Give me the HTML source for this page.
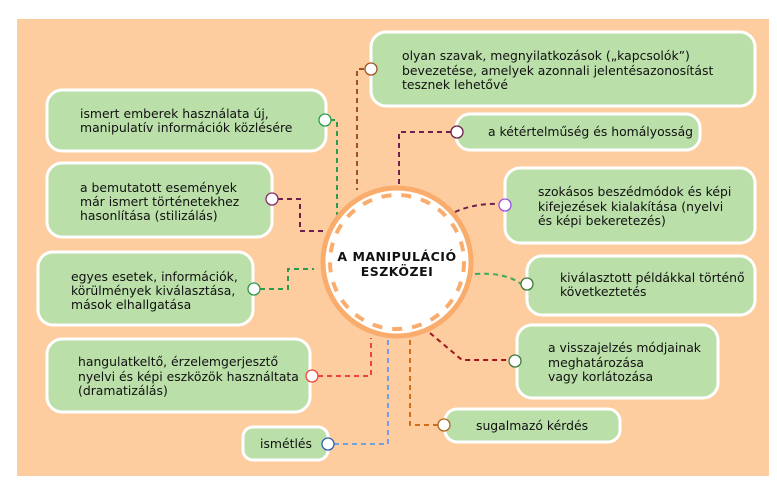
<!DOCTYPE html>
<html><head><meta charset="utf-8"><style>
body{margin:0;background:#fff;width:777px;height:492px;overflow:hidden}
svg text{font-family:"DejaVu Sans","Liberation Sans",sans-serif;font-size:12.4px;fill:#111}
</style></head><body>
<svg width="777" height="492" xmlns="http://www.w3.org/2000/svg">
<rect x="17" y="19" width="752" height="457" fill="#FDCC9F"/>
<g fill="#BADFA9" stroke="#fff" stroke-width="3">
<rect x="371" y="32" width="384" height="74" rx="15"/>
<rect x="47" y="90" width="279" height="61" rx="15"/>
<rect x="456" y="114" width="244" height="36" rx="14"/>
<rect x="47" y="163" width="225" height="74" rx="15"/>
<rect x="505" y="168" width="250" height="75" rx="15"/>
<rect x="38" y="252" width="215" height="73" rx="15"/>
<rect x="527" y="256" width="228" height="59" rx="15"/>
<rect x="47" y="339" width="263" height="73" rx="15"/>
<rect x="517" y="325" width="201" height="73" rx="15"/>
<rect x="445" y="409" width="175" height="33" rx="12"/>
<rect x="243" y="427" width="85" height="33" rx="10"/>
</g>
<g fill="none" stroke-width="2" stroke-dasharray="5,4">
<path d="M364 69 H357 V190" stroke="#A0521F"/>
<path d="M330 120 H337 V215" stroke="#2E9A4E"/>
<path d="M451 132 H399 V186" stroke="#6E1F4E"/>
<path d="M278 199 H300 V231 H325" stroke="#6E1F4E"/>
<path d="M455 212 Q475 203 499 204" stroke="#6E1F4E"/>
<path d="M260 289 H288 V269 H314" stroke="#2E9A4E"/>
<path d="M475 274 Q505 272 521 284" stroke="#3BAA5A"/>
<path d="M318 376 H371 V338" stroke="#F0433A"/>
<path d="M430 333 L462 360 H509" stroke="#A0161A"/>
<path d="M410 340 V425 H438" stroke="#D0701A"/>
<path d="M388 340 V444 H334" stroke="#6FA0E0"/>
</g>
<circle cx="397" cy="262" r="74" fill="#fff" stroke="#F9AC6C" stroke-width="5"/>
<circle cx="397" cy="262" r="67" fill="none" stroke="#F9AC6C" stroke-width="4" stroke-dasharray="10,10"/>
<g fill="#fff" stroke-width="1.3">
<circle cx="371" cy="69" r="6" stroke="#A0521F"/>
<circle cx="325" cy="120" r="6" stroke="#2E9A4E"/>
<circle cx="457" cy="132" r="6" stroke="#6E1F4E"/>
<circle cx="272" cy="199" r="6" stroke="#8B2B6A"/>
<circle cx="505" cy="205" r="6" stroke="#9B4FE0"/>
<circle cx="254" cy="289" r="6" stroke="#2E9A4E"/>
<circle cx="527" cy="284" r="6" stroke="#3B7A3A"/>
<circle cx="312" cy="376" r="6" stroke="#F0433A"/>
<circle cx="515" cy="361" r="6" stroke="#3B7A3A"/>
<circle cx="444" cy="425" r="6" stroke="#B0651A"/>
<circle cx="328" cy="444" r="6" stroke="#3060B0"/>
</g>
<text x="397" y="261" text-anchor="middle" style="font-weight:bold;font-size:12.5px;letter-spacing:0.5px">A MANIPULÁCIÓ</text>
<text x="397" y="276" text-anchor="middle" style="font-weight:bold;font-size:12.5px;letter-spacing:0.5px">ESZKÖZEI</text>
<text x="402" y="60">olyan szavak, megnyilatkozások („kapcsolók”)</text>
<text x="402" y="75">bevezetése, amelyek azonnali jelentésazonosítást</text>
<text x="402" y="89">tesznek lehetővé</text>
<text x="80" y="118">ismert emberek használata új,</text>
<text x="80" y="132">manipulatív információk közlésére</text>
<text x="488" y="136">a kétértelműség és homályosság</text>
<text x="80" y="192">a bemutatott események</text>
<text x="80" y="206">már ismert történetekhez</text>
<text x="80" y="220">hasonlítása (stilizálás)</text>
<text x="538" y="196">szokásos beszédmódok és képi</text>
<text x="538" y="211">kifejezések kialakítása (nyelvi</text>
<text x="538" y="225">és képi bekeretezés)</text>
<text x="71" y="281">egyes esetek, információk,</text>
<text x="71" y="295">körülmények kiválasztása,</text>
<text x="71" y="309">mások elhallgatása</text>
<text x="560" y="282">kiválasztott példákkal történő</text>
<text x="560" y="296">következtetés</text>
<text x="78" y="366">hangulatkeltő, érzelemgerjesztő</text>
<text x="78" y="381">nyelvi és képi eszközök használtata</text>
<text x="78" y="395">(dramatizálás)</text>
<text x="548" y="352">a visszajelzés módjainak</text>
<text x="548" y="367">meghatározása</text>
<text x="548" y="381">vagy korlátozása</text>
<text x="476" y="430">sugalmazó kérdés</text>
<text x="260" y="448">ismétlés</text>
</svg>
</body></html>
